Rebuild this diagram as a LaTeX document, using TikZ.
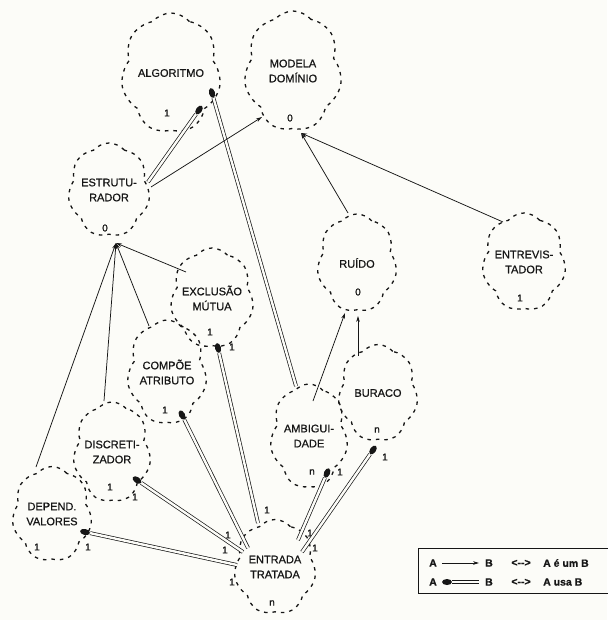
\documentclass[tikz,border=0pt]{standalone}
\usepackage{fontspec}
\setmainfont{Liberation Sans}
\newfontfamily\labelfont[FakeBold=0.7]{Liberation Sans}
\usetikzlibrary{shapes.symbols,shapes.geometric,arrows.meta}
\definecolor{paper}{RGB}{252,252,248}
\definecolor{ink}{RGB}{22,22,22}

\begin{document}
\begin{tikzpicture}[x=1pt,y=-1pt,
  concept/.style={cloud, cloud puffs=7, cloud puff arc=100, cloud ignores aspect,
    draw=ink, dash pattern=on 3.5pt off 5pt, line width=1.3pt,
    align=center, font=\labelfont\fontsize{11}{15}\selectfont, text=ink, inner sep=0pt},
  card/.style={font=\labelfont\fontsize{10}{12}\selectfont, text=ink, inner sep=0pt},
  isa/.style={draw=ink, line width=0.75pt, -{Stealth[length=6pt,width=3.6pt]}},
  uses/.style={draw=ink, line width=0.7pt, double=paper, double distance=2.4pt},
  usedot/.style={ellipse, fill=ink, minimum width=6pt, minimum height=10pt, inner sep=0pt},
  legtxt/.style={font=\labelfont\bfseries\fontsize{10.5}{12}\selectfont, text=ink, inner sep=0pt},
]
% page
\fill[paper] (0,0) rectangle (607,620);
\useasboundingbox (0,0) rectangle (607,620);

% concepts
\node[concept, minimum width=100pt, minimum height=120pt] (alg)  at (171,73)  {ALGORITMO};
\node[concept, minimum width=98pt,  minimum height=120pt] (mod)  at (293,71)  {MODELA\\DOMÍNIO};
\node[concept, minimum width=82pt,  minimum height=94pt]  (estr) at (109,190) {ESTRUTU-\\RADOR};
\node[concept, minimum width=80pt,  minimum height=100pt] (exc)  at (212,298) {EXCLUSÃO\\MÚTUA};
\node[concept, minimum width=80pt,  minimum height=98pt]  (rui)  at (357,263) {RUÍDO};
\node[concept, minimum width=84pt,  minimum height=98pt]  (ent)  at (524,262) {ENTREVIS-\\TADOR};
\node[concept, minimum width=80pt,  minimum height=104pt] (comp) at (167,372) {COMPÕE\\ATRIBUTO};
\node[concept, minimum width=80pt,  minimum height=97pt]  (bur)  at (378,393) {BURACO};
\node[concept, minimum width=78pt,  minimum height=104pt] (amb)  at (309,436) {AMBIGUI-\\DADE};
\node[concept, minimum width=78pt,  minimum height=100pt] (disc) at (112,452) {DISCRETI-\\ZADOR};
\node[concept, minimum width=80pt,  minimum height=95pt]  (dep)  at (52,514)  {DEPEND.\\VALORES};
\node[concept, minimum width=82pt,  minimum height=95pt]  (entr) at (275,567) {ENTRADA\\TRATADA};

% cardinalities
\node[card] (algC)  at (167,113) {1};
\node[card] (modC)  at (290,118) {0};
\node[card] (estrC) at (105,228) {0};
\node[card] (excC)  at (210,332) {1};
\node[card] (excC2) at (232,347) {1};
\node[card] (ruiC)  at (358,292) {0};
\node[card] (entC)  at (520,298) {1};
\node[card] (compC) at (165,410) {1};
\node[card] (burC)  at (377,430) {n};
\node[card] (burC2) at (385,457) {1};
\node[card] (ambC)  at (312,472) {n};
\node[card] (ambC2) at (340,472) {1};
\node[card] (discC) at (110,487) {1};
\node[card] (discC2) at (135,497) {1};
\node[card] (depC)  at (37,547)  {1};
\node[card] (depC2) at (88,547)  {1};
\node[card] (entrC1) at (267,510) {1};
\node[card] (entrC2) at (228,535) {1};
\node[card] (entrC3) at (225,550) {1};
\node[card] (entrC4) at (232,582) {1};
\node[card] (entrC5) at (310,533) {1};
\node[card] (entrC6) at (315,548) {1};
\node[card] (entrC7) at (272,603) {n};

% attachment points on the cloud outlines
\coordinate (estrR) at (148,182);
\coordinate (estrM) at (151,187);
\coordinate (estrB) at (116,243);
\coordinate (modL)  at (262,117);
\coordinate (modB)  at (301,133);
\coordinate (ruiT)  at (348,213);
\coordinate (ruiB)  at (345,313);
\coordinate (ruiB2) at (358,316);
\coordinate (entT)  at (503,222);
\coordinate (excT)  at (186,272);
\coordinate (compT) at (149,326);
\coordinate (discT) at (104,401);
\coordinate (depT)  at (36,467);
\coordinate (burT)  at (358,356);
\coordinate (ambT)  at (313,401);
\coordinate (ambT2) at (296,386);
\coordinate (entrE) at (258,523);
\coordinate (entrK) at (248,548);
\coordinate (entrD) at (243,552);
\coordinate (entrP) at (237,565);
\coordinate (entrA) at (298,540);
\coordinate (entrB) at (302,552);

% "usa" ends
\node[usedot, rotate=-35] (algU1) at (199,110) {};
\node[usedot, rotate=16]  (algU2) at (212,93)  {};
\node[usedot, rotate=13]  (excU)  at (218,348) {};
\node[usedot, rotate=26]  (compU) at (182,415) {};
\node[usedot, rotate=56]  (discU) at (137,480) {};
\node[usedot, rotate=78]  (depU)  at (85,532)  {};
\node[usedot, rotate=-23] (ambU)  at (327,473) {};
\node[usedot, rotate=-35] (burU)  at (373,450) {};

% "usa" connectors
\draw[uses] (algU1) -- (estrR);
\draw[uses] (algU2) -- (ambT2);
\draw[uses] (excU)  -- (entrE);
\draw[uses] (compU) -- (entrK);
\draw[uses] (discU) -- (entrD);
\draw[uses] (depU)  -- (entrP);
\draw[uses] (ambU)  -- (entrA);
\draw[uses] (burU)  -- (entrB);

% "é um" connectors
\draw[isa] (estrM) -- (modL);
\draw[isa] (ruiT)  -- (modB);
\draw[isa] (entT)  -- (modB);
\draw[isa] (excT)  -- (estrB);
\draw[isa] (compT) -- (estrB);
\draw[isa] (discT) -- (estrB);
\draw[isa] (depT)  -- (estrB);
\draw[isa] (ambT)  -- (ruiB);
\draw[isa] (burT)  -- (ruiB2);

% legend
\draw[ink, line width=0.9pt] (612,548) -- (418,548) -- (418,593) -- (612,593);
\node[legtxt] (legA1) at (433,563) {A};
\node[legtxt] (legB1) at (489,563) {B};
\node[legtxt] (legE1) at (521,563) {<{-}{-}>};
\node[legtxt, anchor=west] (legT1) at (543,563) {A é um B};
\draw[isa, shorten <=5pt, shorten >=6pt] (legA1) -- (legB1);
\node[legtxt] (legA2) at (433,582) {A};
\node[usedot, rotate=90] (legU) at (447,582) {};
\node[legtxt] (legB2) at (489,582) {B};
\node[legtxt] (legE2) at (521,582) {<{-}{-}>};
\node[legtxt, anchor=west] (legT2) at (543,582) {A usa B};
\draw[uses, shorten >=6pt] (legU) -- (legB2);
\end{tikzpicture}
\end{document}
